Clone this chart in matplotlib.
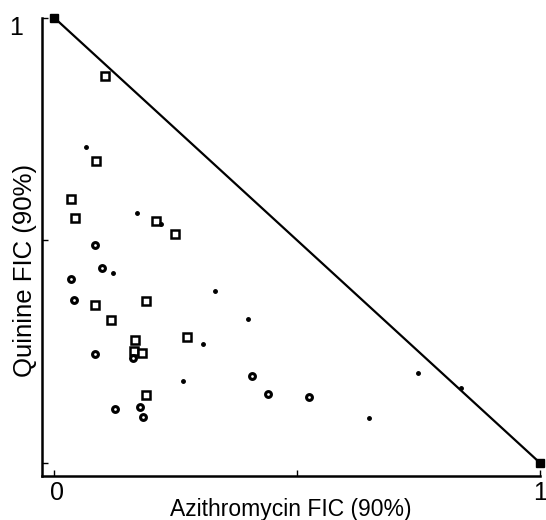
import matplotlib
matplotlib.use('Agg')
import matplotlib.pyplot as plt
import matplotlib.transforms as mtransforms

plt.rcParams['font.family'] = ['Liberation Sans', 'DejaVu Sans']

# Isobologram data (FIC values)
square_x = [0.104, 0.086, 0.034, 0.043, 0.210, 0.249, 0.189, 0.084, 0.117,
            0.273, 0.167, 0.164, 0.180, 0.189]
square_y = [0.868, 0.679, 0.593, 0.551, 0.544, 0.515, 0.363, 0.354, 0.322,
            0.283, 0.276, 0.252, 0.247, 0.153]

circle_x = [0.083, 0.099, 0.034, 0.040, 0.083, 0.163, 0.408, 0.440, 0.525,
            0.126, 0.176, 0.182]
circle_y = [0.489, 0.438, 0.413, 0.366, 0.244, 0.235, 0.195, 0.155, 0.148,
            0.120, 0.125, 0.103]

dot_x = [0.066, 0.170, 0.220, 0.121, 0.330, 0.398, 0.307, 0.265, 0.748,
         0.837, 0.649]
dot_y = [0.710, 0.561, 0.536, 0.426, 0.387, 0.323, 0.268, 0.184, 0.202,
         0.168, 0.101]

# line of additivity
add_x = [0, 1]
add_y = [1, 0]


def main():
    fig = plt.figure(figsize=(5.46, 5.2), dpi=100)
    ax = fig.add_axes([0.077, 0.085, 0.912, 0.881])

    ax.plot(add_x, add_y, color='black', lw=1.6, marker='s', ms=5.5,
            clip_on=False, zorder=3)
    ax.plot(square_x, square_y, ls='none', marker='s', ms=5.5, mfc='white',
            mec='black', mew=1.8)
    ax.plot(circle_x, circle_y, ls='none', marker='o', ms=4.2, mfc='white',
            mec='black', mew=2.2)
    ax.plot(dot_x, dot_y, ls='none', marker='o', ms=2.5, color='black')

    ax.set_xlim(-0.025, 1.0)
    ax.set_ylim(-0.029, 1.0)

    ax.set_xticks([0, 0.5, 1])
    ax.set_xticklabels(['0', '', '1'])
    ax.set_yticks([0, 0.5, 1])
    ax.set_yticklabels(['', '', '1'])
    ax.tick_params(direction='in', length=4, width=1, labelsize=18)
    ax.tick_params(axis='x', pad=4)
    ax.tick_params(axis='y', pad=14)

    # nudge tick labels a little, as in the original
    yshift = mtransforms.ScaledTranslation(0, -8 / 100, fig.dpi_scale_trans)
    for lab in ax.get_yticklabels():
        lab.set_transform(lab.get_transform() + yshift)
    xshift = mtransforms.ScaledTranslation(3 / 100, 0, fig.dpi_scale_trans)
    ax.get_xticklabels()[0].set_transform(
        ax.get_xticklabels()[0].get_transform() + xshift)

    for side in ['top', 'right']:
        ax.spines[side].set_visible(False)
    for side in ['left', 'bottom']:
        ax.spines[side].set_linewidth(1.8)

    ax.set_xlabel('Azithromycin FIC (90%)', fontsize=16.5)
    ax.xaxis.label.set_va('center')
    ax.xaxis.set_label_coords(0.5, -0.074)

    ax.set_ylabel('Quinine FIC (90%)', fontsize=18.5)
    ax.yaxis.label.set_va('center')
    ax.yaxis.set_label_coords(-0.034, 0.448)

    fig.savefig('out.png', dpi=100)


if __name__ == '__main__':
    main()
